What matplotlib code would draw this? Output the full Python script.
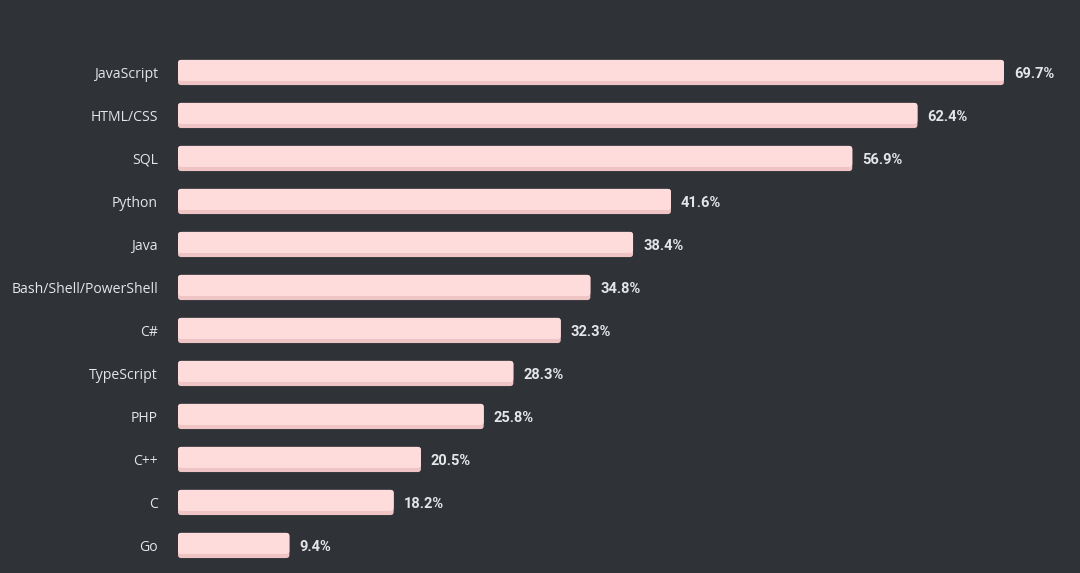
import matplotlib
matplotlib.use("Agg")
import matplotlib.pyplot as plt
from matplotlib.patches import FancyBboxPatch

languages = ["JavaScript", "HTML/CSS", "SQL", "Python", "Java",
             "Bash/Shell/PowerShell", "C#", "TypeScript", "PHP", "C++", "C", "Go"]
shares = [69.7, 62.4, 56.9, 41.6, 38.4, 34.8, 32.3, 28.3, 25.8, 20.5, 18.2, 9.4]

bg = "#2f3237"
bar_color = "#ffdcdc"
lip_color = "#efc4c4"
label_color = "#e4e6e8"

fig = plt.figure(figsize=(10.8, 5.73), dpi=100, facecolor=bg)
ax = fig.add_axes([178 / 1080, 0, 1 - 178 / 1080, 1])
ax.set_facecolor(bg)

n = len(languages)
ypos = list(range(n))
h = 0.585
lip = 0.095

ax.set_xlim(0, 902 / 11.85)
ax.set_ylim(n - 1 + 0.64, -1.686)

# px per unit: x 11.85, y 43 -> aspect for round corners
aspect = 11.85 / 43
bars = ax.barh(ypos, shares, height=h, color=lip_color)
for rect in bars:
    rect.set_visible(False)
    x, y, w, hh = rect.get_x(), rect.get_y(), rect.get_width(), rect.get_height()
    ax.add_patch(FancyBboxPatch((x, y), w, hh,
                                boxstyle="round,pad=0,rounding_size=0.27",
                                mutation_aspect=aspect, fc=lip_color, ec="none"))
    ax.add_patch(FancyBboxPatch((x, y), w, hh - lip,
                                boxstyle="round,pad=0,rounding_size=0.27",
                                mutation_aspect=aspect, fc=bar_color, ec="none"))

for yi, (name, v) in enumerate(zip(languages, shares)):
    ax.text(-20 / 11.85, yi, name, ha="right", va="center_baseline", fontsize=10.1,
            color=label_color, family="Open Sans", clip_on=False)
    ax.text(v + 10 / 11.85, yi, f"{v}%", ha="left", va="center_baseline", fontsize=10.5,
            color=label_color, family="Roboto", fontweight="bold")

ax.axis("off")
fig.savefig("out.png", dpi=100, facecolor=bg)
